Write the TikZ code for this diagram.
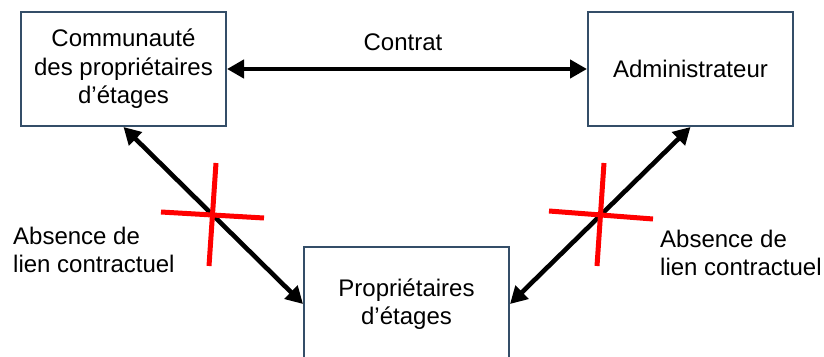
\documentclass[tikz,border=0pt]{standalone}
\usepackage{fontspec}
\setmainfont{Liberation Sans}
\usetikzlibrary{arrows.meta}
\definecolor{boxedge}{RGB}{52,78,104}
\definecolor{crossred}{RGB}{255,0,0}
\tikzset{
  partybox/.style={draw=boxedge, line width=2pt, fill=white, minimum width=205pt, minimum height=114pt, align=center, inner sep=0pt, font=\fontsize{24}{28.5}\selectfont},
  lbl/.style={align=left, inner sep=0pt, font=\fontsize{24}{28.5}\selectfont},
  link/.style={line width=4.6pt, {Triangle[length=17pt,width=18pt]}-{Triangle[length=17pt,width=18pt]}},
  cross/.style={draw=crossred, line width=5pt}
}
\begin{document}
\begin{tikzpicture}[x=1pt,y=-1pt]
\clip (0,0) rectangle (824,356);
\useasboundingbox (0,0) rectangle (824,356);
\fill[white] (0,0) rectangle (824,356);
\node[partybox] (L) at (123.5,69) {Communauté\\des propriétaires\\d’étages};
\node[partybox] (R) at (690.5,69) {Administrateur};
\node[partybox] (B) at (406.5,304) {Propriétaires\\d’étages};
\node[lbl] (C) at (403,42) {Contrat};
\node[lbl, anchor=west] (LA) at (13,250) {Absence de\\lien contractuel};
\node[lbl, anchor=west] (RA) at (660,253) {Absence de\\lien contractuel};
\draw[link] (L.east) -- (R.west);
\draw[link] (L.south) -- (B.west);
\draw[link] (R.south) -- (B.east);
\draw[cross] (216,163) -- (209,266);
\draw[cross] (161,212) -- (264,218);
\draw[cross] (604,163) -- (597,266);
\draw[cross] (549,211) -- (653,219);
\end{tikzpicture}
\end{document}
